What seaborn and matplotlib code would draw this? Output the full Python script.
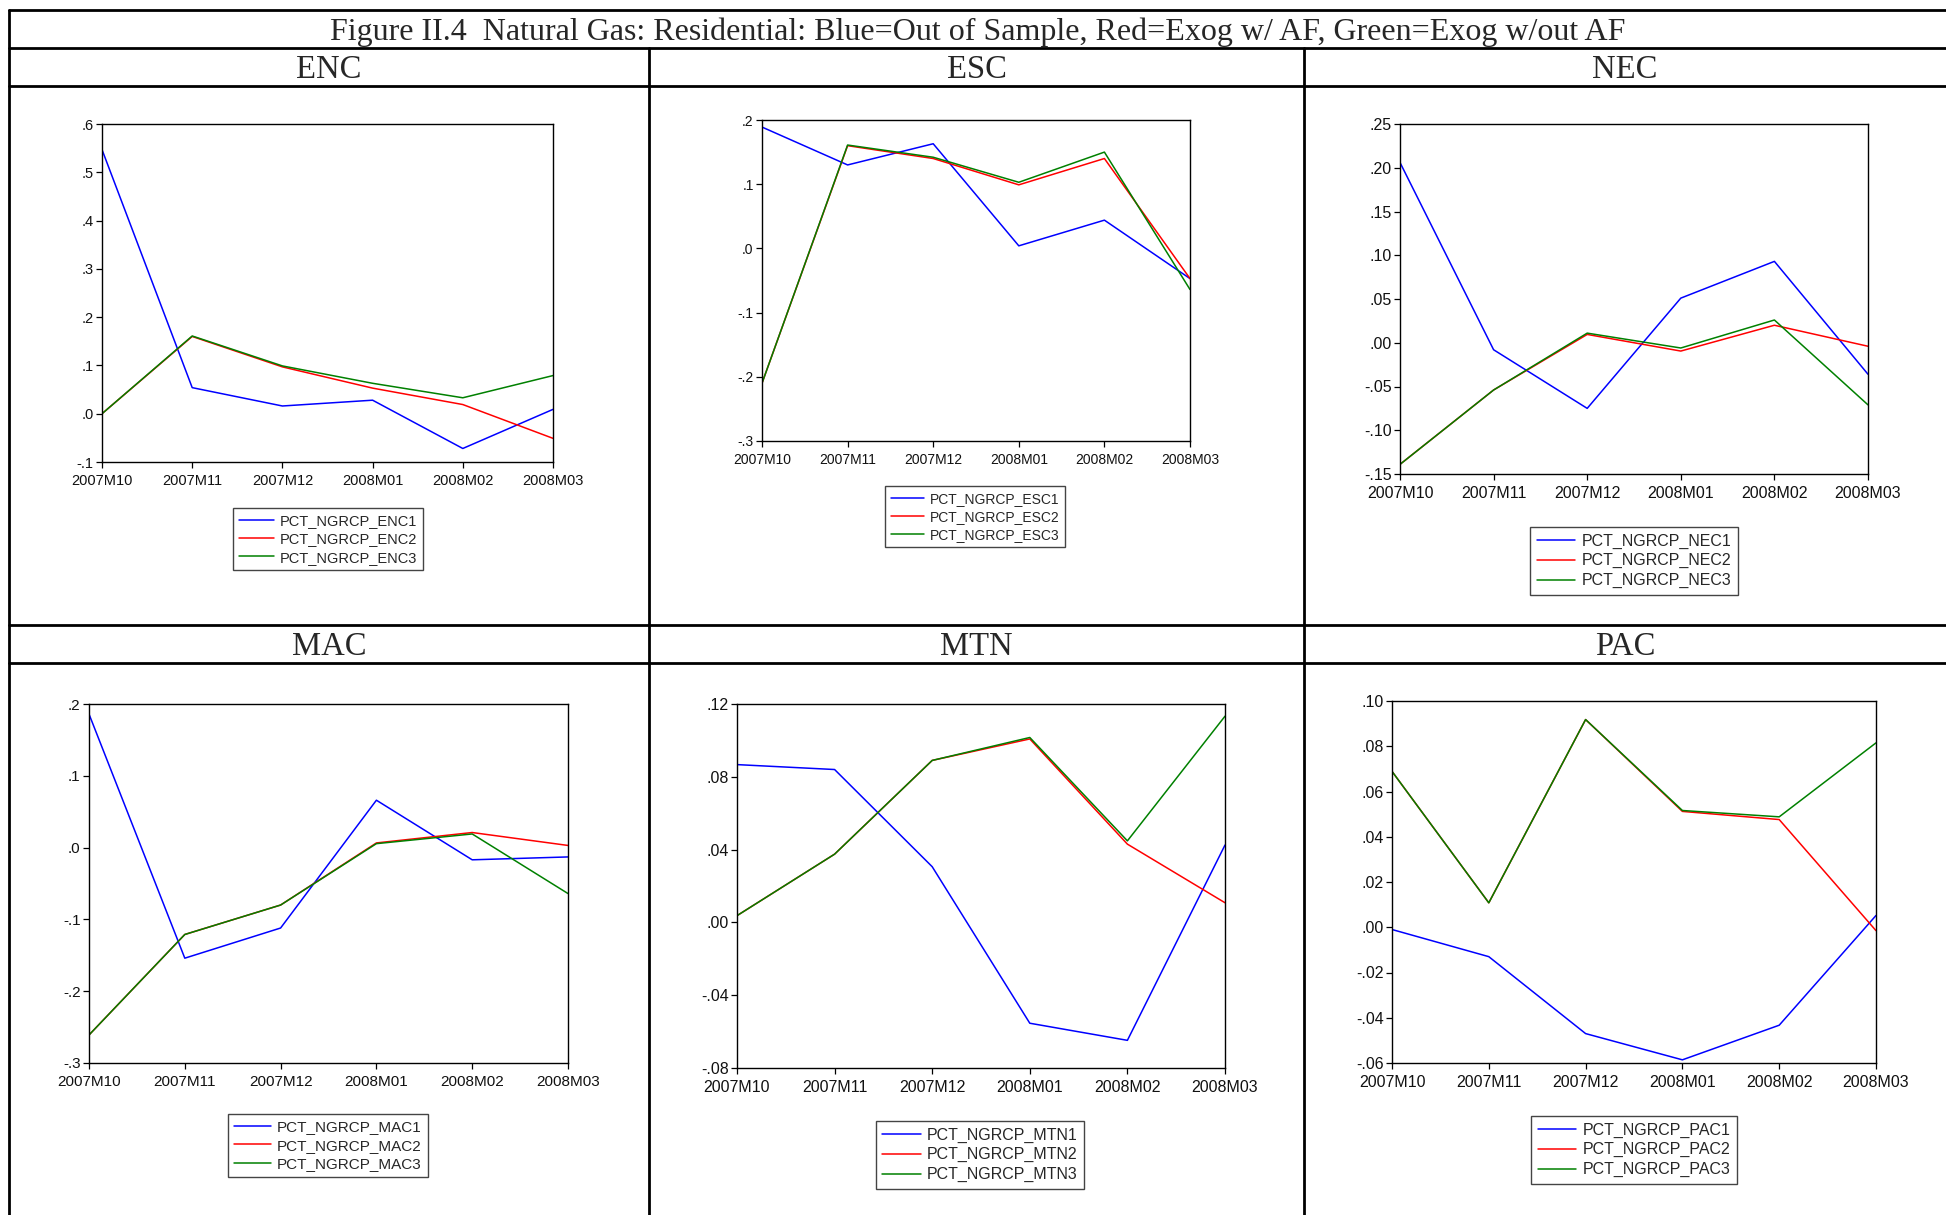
import numpy as np
import pandas as pd
import seaborn as sns
import matplotlib.pyplot as plt
from matplotlib.lines import Line2D
from matplotlib.ticker import FuncFormatter

# ---------------- data ----------------
months = ["2007M10", "2007M11", "2007M12", "2008M01", "2008M02", "2008M03"]

enc_1 = [0.547, 0.054, 0.016, 0.028, -0.072, 0.009]
enc_2 = [0.000, 0.160, 0.097, 0.053, 0.019, -0.051]
enc_3 = [0.000, 0.161, 0.099, 0.063, 0.033, 0.079]

esc_1 = [0.189, 0.130, 0.163, 0.004, 0.044, -0.047]
esc_2 = [-0.210, 0.160, 0.140, 0.099, 0.140, -0.047]
esc_3 = [-0.210, 0.161, 0.142, 0.103, 0.150, -0.064]

nec_1 = [0.206, -0.008, -0.075, 0.051, 0.093, -0.036]
nec_2 = [-0.139, -0.054, 0.0095, -0.0095, 0.020, -0.004]
nec_3 = [-0.139, -0.054, 0.011, -0.006, 0.026, -0.071]

mac_1 = [0.186, -0.154, -0.112, 0.066, -0.017, -0.013]
mac_2 = [-0.261, -0.121, -0.080, 0.0065, 0.021, 0.003]
mac_3 = [-0.261, -0.121, -0.080, 0.0055, 0.019, -0.064]

mtn_1 = [0.0867, 0.0840, 0.0306, -0.0554, -0.0648, 0.0425]
mtn_2 = [0.0037, 0.0375, 0.0890, 0.1008, 0.0430, 0.0108]
mtn_3 = [0.0037, 0.0375, 0.0890, 0.1016, 0.0448, 0.1133]

pac_1 = [-0.0010, -0.0130, -0.0470, -0.0586, -0.0433, 0.0052]
pac_2 = [0.0689, 0.0108, 0.0918, 0.0512, 0.0476, -0.0015]
pac_3 = [0.0689, 0.0108, 0.0918, 0.0516, 0.0488, 0.0815]

regions = ["ENC", "ESC", "NEC", "MAC", "MTN", "PAC"]
series = {
    "ENC": [enc_1, enc_2, enc_3],
    "ESC": [esc_1, esc_2, esc_3],
    "NEC": [nec_1, nec_2, nec_3],
    "MAC": [mac_1, mac_2, mac_3],
    "MTN": [mtn_1, mtn_2, mtn_3],
    "PAC": [pac_1, pac_2, pac_3],
}
# y tick ranges (min, max, step, decimals)
yticks_spec = {
    "ENC": (-0.1, 0.6, 0.1, 1),
    "ESC": (-0.3, 0.2, 0.1, 1),
    "NEC": (-0.15, 0.25, 0.05, 2),
    "MAC": (-0.3, 0.2, 0.1, 1),
    "MTN": (-0.08, 0.12, 0.04, 2),
    "PAC": (-0.06, 0.10, 0.02, 2),
}
title = "Figure II.4  Natural Gas: Residential: Blue=Out of Sample, Red=Exog w/ AF, Green=Exog w/out AF"

# ---------------- layout (pixels) ----------------
W, H = 1946, 1215
sns.set_style("white")
plt.rcParams["font.family"] = ["Liberation Sans", "DejaVu Sans"]

fig = plt.figure(figsize=(W / 100, H / 100), dpi=100)

def fx(px):
    return px / W

def fy(py):
    return 1 - py / H

# axes boxes: left, right, top, bottom (px)
axes_px = {
    "ENC": (102, 553, 124, 462),
    "ESC": (762, 1190, 120, 441),
    "NEC": (1400, 1868, 124, 474),
    "MAC": (89, 568, 704, 1063),
    "MTN": (737, 1225, 704, 1068),
    "PAC": (1392, 1876, 701, 1063),
}
legend_px = {  # center x, top y
    "ENC": (328, 508),
    "ESC": (975, 486),
    "NEC": (1634, 527),
    "MAC": (328, 1114),
    "MTN": (980, 1121),
    "PAC": (1634, 1116),
}
fsize = {"ENC": 10.5, "ESC": 10.0, "NEC": 11.5, "MAC": 11.0, "MTN": 11.5, "PAC": 11.5}
palette = ["#0000FF", "#FF0000", "#008000"]

def make_fmt(dec):
    def f(v, pos):
        s = f"{v:.{dec}f}"
        if s.startswith("-0."):
            s = "-" + s[2:]
        elif s.startswith("0."):
            s = s[1:]
        if s.replace("0", "").replace(".", "").replace("-", "") == "":
            s = "." + "0" * dec
        return s
    return f

x_idx = np.arange(len(months))
for reg in regions:
    L, R, T, B = axes_px[reg]
    ax = fig.add_axes([fx(L), fy(B), fx(R) - fx(L), fy(T) - fy(B)])
    names = [f"PCT_NGRCP_{reg}{i}" for i in (1, 2, 3)]
    rows = []
    for nm, vals in zip(names, series[reg]):
        for xi, v in zip(x_idx, vals):
            rows.append({"x": xi, "value": v, "series": nm})
    df = pd.DataFrame(rows)
    sns.lineplot(data=df, x="x", y="value", hue="series", hue_order=names,
                 palette=palette, ax=ax, linewidth=1.1, legend=False,
                 errorbar=None, sort=False)
    ymin, ymax, step, dec = yticks_spec[reg]
    ticks = np.round(np.arange(ymin, ymax + step / 2, step), 4)
    ax.set_ylim(ymin, ymax)
    ax.set_xlim(0, len(months) - 1)
    ax.set_yticks(ticks)
    ax.yaxis.set_major_formatter(FuncFormatter(make_fmt(dec)))
    ax.set_xticks(x_idx)
    ax.set_xticklabels(months)
    ax.set_xlabel("")
    ax.set_ylabel("")
    for sp in ax.spines.values():
        sp.set_visible(True)
        sp.set_color("black")
        sp.set_linewidth(1.0)
    ax.tick_params(axis="both", which="major", direction="out", length=4,
                   width=0.9, color="black", labelsize=fsize[reg],
                   labelcolor="#111111", left=True, bottom=True,
                   top=False, right=False)
    ax.tick_params(axis="x", pad=4.5)
    ax.tick_params(axis="y", pad=2.0)
    ax.set_facecolor("white")
    handles = [Line2D([], [], color=c, lw=1.1) for c in palette]
    cx, ty = legend_px[reg]
    leg = ax.legend(handles, names, loc="upper center",
                    bbox_to_anchor=(fx(cx), fy(ty)), bbox_transform=fig.transFigure,
                    fontsize=fsize[reg], frameon=True, fancybox=False,
                    framealpha=1, edgecolor="#444444", borderpad=0.4,
                    handlelength=2.4, handletextpad=0.4, labelspacing=0.3,
                    borderaxespad=0)
    leg.get_frame().set_linewidth(1.0)

# ---------------- table lines and texts ----------------
lw = 2.0
def hline(py, x0=9, x1=W):
    fig.add_artist(Line2D([fx(x0), fx(x1)], [fy(py), fy(py)], color="black",
                          lw=lw, transform=fig.transFigure))

def vline(px, y0, y1=H):
    fig.add_artist(Line2D([fx(px), fx(px)], [fy(y0), fy(y1)], color="black",
                          lw=lw, transform=fig.transFigure))

for py in (10, 48, 86, 625, 663):
    hline(py)
vline(9, 10)
vline(649, 48)
vline(1304, 48)

serif = ["Liberation Serif", "DejaVu Serif"]
fig.text(fx((9 + W) / 2), fy(32), title, ha="center", va="center",
         fontsize=23, family=serif)
col_centers = [(9 + 649) / 2, (649 + 1304) / 2, (1304 + W) / 2]
for i, reg in enumerate(regions):
    cy = 70 if i < 3 else 647
    fig.text(fx(col_centers[i % 3]), fy(cy), reg, ha="center", va="center",
             fontsize=23.5, family=serif)

fig.savefig("out.png", dpi=100, facecolor="white")
